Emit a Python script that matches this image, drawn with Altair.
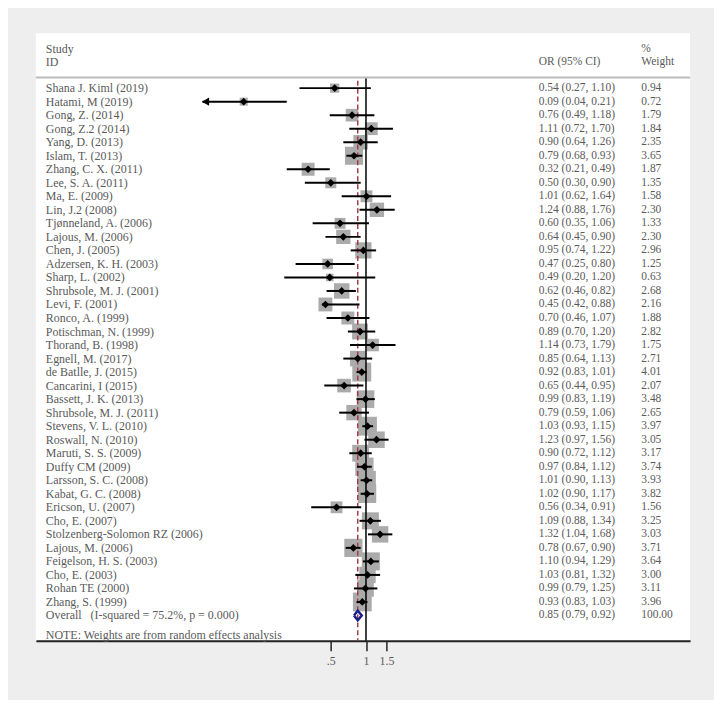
import math
import altair as alt
import pandas as pd

studies = [
    "Shana J. Kiml (2019)", "Hatami, M (2019)", "Gong, Z. (2014)", "Gong, Z.2 (2014)",
    "Yang, D. (2013)", "Islam, T. (2013)", "Zhang, C. X. (2011)", "Lee, S. A. (2011)",
    "Ma, E. (2009)", "Lin, J.2 (2008)", "Tjønneland, A. (2006)", "Lajous, M. (2006)",
    "Chen, J. (2005)", "Adzersen, K. H. (2003)", "Sharp, L. (2002)", "Shrubsole, M. J. (2001)",
    "Levi, F. (2001)", "Ronco, A. (1999)", "Potischman, N. (1999)", "Thorand, B. (1998)",
    "Egnell, M. (2017)", "de Batlle, J. (2015)", "Cancarini, I (2015)", "Bassett, J. K. (2013)",
    "Shrubsole, M. J. (2011)", "Stevens, V. L. (2010)", "Roswall, N. (2010)", "Maruti, S. S. (2009)",
    "Duffy CM (2009)", "Larsson, S. C. (2008)", "Kabat, G. C. (2008)", "Ericson, U. (2007)",
    "Cho, E. (2007)", "Stolzenberg-Solomon RZ (2006)", "Lajous, M. (2006)", "Feigelson, H. S. (2003)",
    "Cho, E. (2003)", "Rohan TE (2000)", "Zhang, S. (1999)",
]
odds = [0.54, 0.09, 0.76, 1.11, 0.90, 0.79, 0.32, 0.50, 1.01, 1.24, 0.60, 0.64, 0.95,
        0.47, 0.49, 0.62, 0.45, 0.70, 0.89, 1.14, 0.85, 0.92, 0.65, 0.99, 0.79, 1.03,
        1.23, 0.90, 0.97, 1.01, 1.02, 0.56, 1.09, 1.32, 0.78, 1.10, 1.03, 0.99, 0.93]
lower = [0.27, 0.04, 0.49, 0.72, 0.64, 0.68, 0.21, 0.30, 0.62, 0.88, 0.35, 0.45, 0.74,
         0.25, 0.20, 0.46, 0.42, 0.46, 0.70, 0.73, 0.64, 0.83, 0.44, 0.83, 0.59, 0.93,
         0.97, 0.72, 0.84, 0.90, 0.90, 0.34, 0.88, 1.04, 0.67, 0.94, 0.81, 0.79, 0.83]
upper = [1.10, 0.21, 1.18, 1.70, 1.26, 0.93, 0.49, 0.90, 1.64, 1.76, 1.06, 0.90, 1.22,
         0.80, 1.20, 0.82, 0.88, 1.07, 1.20, 1.79, 1.13, 1.01, 0.95, 1.19, 1.06, 1.15,
         1.56, 1.12, 1.12, 1.13, 1.17, 0.91, 1.34, 1.68, 0.90, 1.29, 1.32, 1.25, 1.03]
weights = [0.94, 0.72, 1.79, 1.84, 2.35, 3.65, 1.87, 1.35, 1.58, 2.30, 1.33, 2.30, 2.96,
           1.25, 0.63, 2.68, 2.16, 1.88, 2.82, 1.75, 2.71, 4.01, 2.07, 3.48, 2.65, 3.97,
           3.05, 3.17, 3.74, 3.93, 3.82, 1.56, 3.25, 3.03, 3.71, 3.64, 3.00, 3.11, 3.96]

overall_label = "Overall\u00a0\u00a0\u00a0(I-squared = 75.2%, p = 0.000)"
overall_or, overall_lo, overall_hi, overall_w = 0.85, 0.79, 0.92, 100.00
arrow_studies = ["Hatami, M (2019)"]
tick_values = [0.5, 1, 1.5]
note_text = "NOTE: Weights are from random effects analysis"

FONT = "Liberation Serif"
TXT = "#5a5a5a"
W, H = 657, 610

n = len(studies)
df = pd.DataFrame({
    "study": studies, "or_": odds, "lo": lower, "hi": upper, "w": weights,
    "row": list(range(n)),
})
df["ci"] = [f"{a:.2f} ({b:.2f}, {c:.2f})" for a, b, c in zip(odds, lower, upper)]
df["wt"] = [f"{v:.2f}" for v in weights]

ov_row = n
txt_df = pd.concat([
    df[["study", "ci", "wt", "row"]],
    pd.DataFrame({"study": [overall_label],
                  "ci": [f"{overall_or:.2f} ({overall_lo:.2f}, {overall_hi:.2f})"],
                  "wt": [f"{overall_w:.2f}"], "row": [ov_row]}),
], ignore_index=True)

xscale = alt.Scale(type="log", domain=[math.exp(-6.5), math.exp(6.382)], nice=False, zero=False)
yscale = alt.Scale(domain=[-4.05, 40.87], reverse=True, nice=False, zero=False)
xaxis = alt.Axis(values=tick_values, labelExpr="datum.value == 0.5 ? '.5' : toString(datum.value)",
                 title=None, grid=False, domain=True, domainColor="#222222", domainWidth=2,
                 ticks=True, tickColor="#222222", tickWidth=1.5, tickSize=10,
                 labelFont=FONT, labelFontSize=12, labelColor=TXT, labelPadding=5)

def X(field):
    return alt.X(field, scale=xscale, axis=xaxis)

def Y(field="row:Q"):
    return alt.Y(field, scale=yscale, axis=None)

base = alt.Chart(df)

# header separator
sep = alt.Chart(pd.DataFrame({"row": [-0.78]})).mark_rule(color="#BBBBBB", strokeWidth=2).encode(
    x=alt.value(0), x2=alt.value(W), y=Y())

null_line = alt.Chart(pd.DataFrame({"v": [1.0], "row": [-0.72]})).mark_rule(
    color="black", strokeWidth=1.5).encode(x=X("v:Q"), y=Y(), y2=alt.value(H))

ov_line = alt.Chart(pd.DataFrame({"v": [overall_or], "row": [-0.55]})).mark_rule(
    color="#A83A45", strokeWidth=1.5, strokeDash=[5, 3]).encode(x=X("v:Q"), y=Y(), y2=alt.value(H))

squares = base.mark_square(color="#ABABAB", opacity=1).encode(
    x=X("or_:Q"), y=Y(),
    size=alt.Size("w:Q", scale=alt.Scale(type="linear", domain=[0, 1], range=[0, 90]), legend=None))

ci = base.mark_rule(color="black", strokeWidth=2).encode(x=X("lo:Q"), x2="hi:Q", y=Y())

dots = base.mark_point(shape="diamond", filled=True, color="black", size=60, opacity=1).encode(
    x=X("or_:Q"), y=Y())

arrows = alt.Chart(df[df["study"].isin(arrow_studies)]).mark_point(
    shape="triangle-left", filled=True, color="black", size=70, opacity=1, xOffset=3).encode(
    x=X("lo:Q"), y=Y())

dia_df = pd.DataFrame({
    "x": [overall_lo, overall_or, overall_hi, overall_or, overall_lo],
    "row": [ov_row, ov_row - 0.36, ov_row, ov_row + 0.36, ov_row],
    "o": [0, 1, 2, 3, 4],
})
diamond = alt.Chart(dia_df).mark_line(color="#1B1F8A", strokeWidth=2.5, strokeJoin="miter").encode(
    x=X("x:Q"), y=Y(), order="o:O")

def text_layer(data, field, xpos, size=12):
    return alt.Chart(data).mark_text(align="left", baseline="middle", font=FONT,
                                     fontSize=size, color=TXT).encode(
        x=alt.value(xpos), y=Y(), text=field)

names = text_layer(txt_df, "study:N", 10)
cis = text_layer(txt_df, "ci:N", 505, 11.5)
wts = text_layer(txt_df, "wt:N", 608, 11.5)

hdr = pd.DataFrame({"row": [-2.92, -1.92], "a": ["Study", "ID"], "b": ["", "OR (95% CI)"],
                    "c": ["%", "Weight"]})
h1 = text_layer(hdr, "a:N", 10)
h2 = text_layer(hdr, "b:N", 505, 11.5)
h3 = text_layer(hdr, "c:N", 608, 11.5)
note = text_layer(pd.DataFrame({"row": [40.46], "t": [note_text]}), "t:N", 10)

chart = alt.layer(
    sep, squares, null_line, ov_line, ci, dots, arrows, diamond,
    names, cis, wts, h1, h2, h3, note,
).properties(
    width=W, height=H, autosize="none",
    padding={"left": 28, "top": 24, "right": 24, "bottom": 58},
    background="#EEEEEE",
).configure_view(fill="white", strokeWidth=0)

chart.save("out.html", embed_options={"renderer": "svg", "actions": False})
